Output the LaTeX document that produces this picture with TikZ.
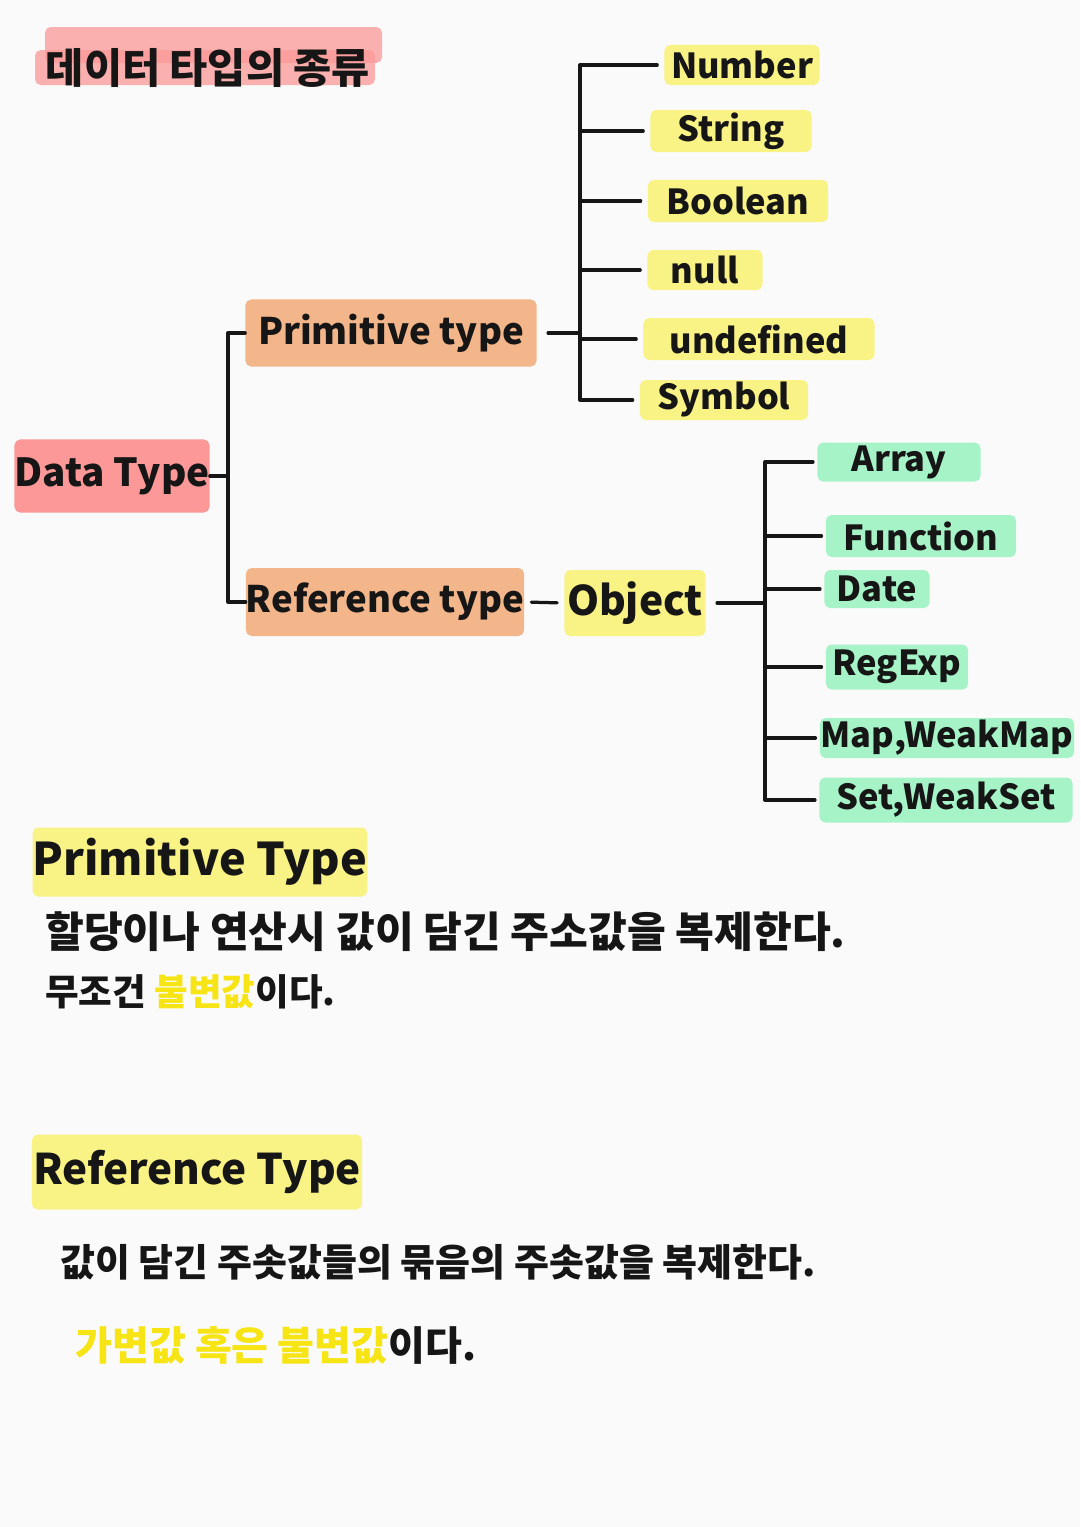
\documentclass[tikz,border=0pt]{standalone}
\usepackage{fontspec}
\setmainfont{Noto Sans CJK KR}
\usepackage{xcolor}

\definecolor{hlred}{RGB}{252,152,152}
\definecolor{hlorange}{RGB}{243,181,138}
\definecolor{hlyellow}{RGB}{249,242,132}
\definecolor{hlgreen}{RGB}{166,243,200}
\definecolor{penyellow}{RGB}{246,228,20}
\definecolor{ink}{RGB}{22,22,22}

\newcommand{\itemsize}{\fontsize{24.5}{28}\selectfont\bfseries}
\newcommand{\bodysize}[1]{\fontsize{#1}{#1}\selectfont\bfseries}

\tikzset{
  hlbox/.style={rounded corners=4pt, inner sep=0pt, text=ink},
  redbox/.style={hlbox, fill=hlred},
  orangebox/.style={hlbox, fill=hlorange, font=\fontsize{26}{30}\selectfont\bfseries},
  yellowbox/.style={hlbox, fill=hlyellow, font=\itemsize},
  greenbox/.style={hlbox, fill=hlgreen, font=\itemsize},
  wire/.style={draw=ink, line width=2.3pt, line cap=round, line join=round},
  bodyline/.style={anchor=west, inner sep=0pt, text=ink}
}

\begin{document}
\begin{tikzpicture}[x=0.025cm, y=-0.025cm]
            \fill[white!98!black] (0,0) rectangle (1080,1527);
            \useasboundingbox (0,0) rectangle (1080,1527);
            % title
            \begin{scope}[fill opacity=0.75]
                \fill[hlred, rounded corners=4pt] (45,27) rectangle (382,63);
                \fill[hlred, rounded corners=4pt] (35,50) rectangle (375,85);
            \end{scope}
            \node[inner sep=0pt, text=ink, font=\fontsize{29.5}{33}\selectfont\bfseries] (ttl) at (208,68) {데이터 타입의 종류};

            % tree
            \node[redbox, minimum width=4.875cm, minimum height=1.825cm, font=\fontsize{27.5}{32}\selectfont\bfseries] (dt) at (112,476) {Data Type};
            \node[orangebox, minimum width=7.275cm, minimum height=1.675cm] (prim) at (391,333) {Primitive type};
            \node[orangebox, minimum width=6.95cm, minimum height=1.7cm] (ref) at (385,602) {Reference type};
            \node[yellowbox, minimum width=3.525cm, minimum height=1.65cm, font=\fontsize{29}{32}\selectfont\bfseries] (obj) at (635,603) {Object};

            \node[yellowbox, minimum width=3.875cm, minimum height=1cm] (num) at (742,65) {Number};
            \node[yellowbox, minimum width=4.025cm, minimum height=1.05cm] (str) at (731,131) {String};
            \node[yellowbox, minimum width=4.5cm, minimum height=1.05cm] (bool) at (738,201) {Boolean};
            \node[yellowbox, minimum width=2.875cm, minimum height=1cm] (nul) at (705,270) {null};
            \node[yellowbox, minimum width=5.775cm, minimum height=1.05cm] (undef) at (759,339) {undefined};
            \node[yellowbox, minimum width=4.2cm, minimum height=1cm] (sym) at (724,400) {Symbol};

            \node[greenbox, minimum width=4.075cm, minimum height=0.975cm] (arr) at (899,462) {Array};
            \node[greenbox, minimum width=4.75cm, minimum height=1.05cm] (fun) at (921,536) {Function};
            \node[greenbox, minimum width=2.625cm, minimum height=0.95cm] (date) at (877,589) {Date};
            \node[greenbox, minimum width=3.55cm, minimum height=1.125cm] (rgx) at (897,667) {RegExp};
            \node[greenbox, minimum width=6.35cm, minimum height=1cm] (map) at (947,738) {Map,WeakMap};
            \node[greenbox, minimum width=6.325cm, minimum height=1.125cm] (set) at (946,800) {Set,WeakSet};

            \coordinate (dbus) at (228,0);
            \coordinate (pbus) at (580,0);
            \coordinate (obus) at (765,0);

            \draw[wire] (dt.east) -- (dbus |- dt.east);
            \draw[wire] (prim.west) -- (dbus |- prim.west) -- (dbus |- ref.west) -- (ref.west);

            \draw[wire, shorten <=8pt] (prim.east) -- (pbus |- prim.east);
            \draw[wire] (pbus |- num.west) -- (pbus |- sym.west);
            \foreach \n in {num,str,bool,nul,undef,sym}
                \draw[wire, shorten >=5pt] (pbus |- \n.west) -- (\n.west);

            \draw[wire, shorten <=5pt, shorten >=5pt] (ref.east) -- (obj.west);
            \draw[wire, shorten <=8pt] (obj.east) -- (obus |- obj.east);
            \draw[wire] (obus |- arr.west) -- (obus |- set.west);
            \foreach \n in {arr,fun,date,rgx,map,set}
                \draw[wire, shorten >=3pt] (obus |- \n.west) -- (\n.west);

            % notes
            \node[hlbox, fill=hlyellow, minimum width=8cm, minimum height=1.725cm, font=\fontsize{32}{36}\selectfont\bfseries] (ptit) at (200,862) {Primitive Type};
            \node[bodyline, font=\bodysize{30}] (pline1) at (45,932) {할당이나 연산시 값이 담긴 주소값을 복제한다.};
            \node[bodyline, font=\bodysize{26}] (pline2) at (45,992) {무조건 \textcolor{penyellow}{불변값}이다.};

            \node[hlbox, fill=hlyellow, minimum width=8.25cm, minimum height=1.875cm, font=\fontsize{30}{36}\selectfont\bfseries] (rtit) at (197,1172) {Reference Type};
            \node[bodyline, font=\bodysize{27}] (rline1) at (60,1262) {값이 담긴 주솟값들의 묶음의 주솟값을 복제한다.};
            \node[bodyline, font=\bodysize{28.5}] (rline2) at (75,1345) {\textcolor{penyellow}{가변값 혹은 불변값}이다.};
        \end{tikzpicture}
\end{document}
